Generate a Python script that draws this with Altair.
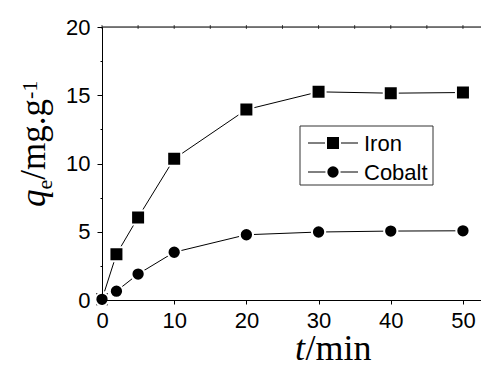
import altair as alt
import pandas as pd

# ---- data ----
t_min = [0, 2, 5, 10, 20, 30, 40, 50]
iron = [0.05, 3.35, 6.05, 10.35, 13.95, 15.25, 15.15, 15.2]
cobalt = [0.05, 0.65, 1.9, 3.5, 4.78, 4.98, 5.05, 5.07]
series_names = ["Iron", "Cobalt"]
x_ticks = [0, 5, 10, 15, 20, 25, 30, 35, 40, 45, 50]
y_ticks = [0, 2.5, 5, 7.5, 10, 12.5, 15, 17.5, 20]

df = pd.DataFrame({
    "t": t_min + t_min,
    "q": iron + cobalt,
    "series": [series_names[0]] * len(t_min) + [series_names[1]] * len(t_min),
})
one = pd.DataFrame({"k": [0]})
xt = pd.DataFrame({"x": x_ticks})

W, H = 379, 273
xscale = alt.Scale(domain=[0, 52.5], nice=False, zero=False)
yscale = alt.Scale(domain=[0, 20], nice=False)

common_axis = dict(grid=False, title=None, domainColor="black", tickColor="black",
                   labelColor="black", labelFont="Liberation Sans", labelFontSize=22,
                   domainWidth=1, tickWidth=1, zindex=1)

xaxis = alt.Axis(values=x_ticks,
                 labelExpr="datum.value % 10 === 0 ? datum.label : ''",
                 tickSize={"condition": {"test": "datum.value % 10 === 0", "value": 4}, "value": 2},
                 labelPadding=6, labelFlush=False, labelOverlap=False, **common_axis)
yaxis = alt.Axis(values=y_ticks,
                 labelExpr="datum.value % 5 === 0 ? datum.label : ''",
                 tickSize={"condition": {"test": "datum.value % 5 === 0", "value": 5}, "value": 2},
                 labelPadding=7, labelFlush=False, labelOverlap=False, **common_axis)

X = alt.X("t:Q", scale=xscale, axis=xaxis)
Y = alt.Y("q:Q", scale=yscale, axis=yaxis)

lines = alt.Chart(df).mark_line(color="black", strokeWidth=1).encode(x=X, y=Y, detail="series:N")

iron_pts = alt.Chart(df).transform_filter(alt.datum.series == series_names[0]).mark_square(
    color="black", stroke="white", strokeWidth=2, size=196, opacity=1).encode(x=X, y=Y)
co_pts = alt.Chart(df).transform_filter(alt.datum.series == series_names[1]).mark_circle(
    color="black", stroke="white", strokeWidth=2, size=177, opacity=1).encode(x=X, y=Y)

# top frame line with small ticks
top_line = alt.Chart(one).mark_rule(color="black", strokeWidth=1).encode(
    x=alt.value(0), x2=alt.value(W), y=alt.value(0))
top_ticks = alt.Chart(xt).mark_tick(color="black", orient="vertical", size=4, thickness=1).encode(
    x=alt.X("x:Q", scale=xscale), y=alt.value(0))

# ---- legend ----
leg_box = alt.Chart(one).mark_rect(fill="white", stroke="#333333", strokeWidth=1).encode(
    x=alt.value(198), x2=alt.value(331), y=alt.value(99), y2=alt.value(158))
rows_y = [116, 145]
leg_layers = [leg_box]
for i, name in enumerate(series_names):
    yy = rows_y[i]
    leg_layers.append(alt.Chart(one).mark_rule(color="black", strokeWidth=1).encode(
        x=alt.value(206), x2=alt.value(256), y=alt.value(yy)))
    if i == 0:
        leg_layers.append(alt.Chart(one).mark_square(color="black", stroke="white", strokeWidth=2,
                                                     size=196, opacity=1).encode(
            x=alt.value(231), y=alt.value(yy)))
    else:
        leg_layers.append(alt.Chart(one).mark_circle(color="black", stroke="white", strokeWidth=2,
                                                     size=177, opacity=1).encode(
            x=alt.value(231), y=alt.value(yy)))
    leg_layers.append(alt.Chart(one).mark_text(font="Liberation Sans", fontSize=22, color="black",
                                               align="left", baseline="middle").encode(
        x=alt.value(262), y=alt.value(yy + 1), text=alt.value(name)))

# ---- axis titles (rich text pieces) ----
def txt(s, x, y, size, italic=False, angle=0):
    kw = dict(font="Liberation Serif", fontSize=size, color="black", align="left",
              baseline="alphabetic")
    if italic:
        kw["fontStyle"] = "italic"
    if angle:
        kw["angle"] = angle
    return alt.Chart(one).mark_text(**kw).encode(x=alt.value(x), y=alt.value(y), text=alt.value(s))

titles = [
    txt("q", -57, 180, 35, italic=True, angle=270),
    txt("e", -50, 162.5, 22, angle=270),
    txt("/mg.g", -57, 152.7, 35, angle=270),
    txt("-1", -65, 72, 22, angle=270),
    txt("t", 193, 333, 36, italic=True),
    txt("/min", 203.5, 333, 36),
]

chart = alt.layer(lines, iron_pts, co_pts, top_line, top_ticks, *leg_layers, *titles).properties(
    width=W, height=H,
    autosize=alt.AutoSizeParams(type="none"),
    padding={"left": 94, "top": 19, "right": 0, "bottom": 64},
).configure_view(strokeWidth=0).configure(background="white")

chart.save("out.html", embed_options={"renderer": "svg", "actions": False})
